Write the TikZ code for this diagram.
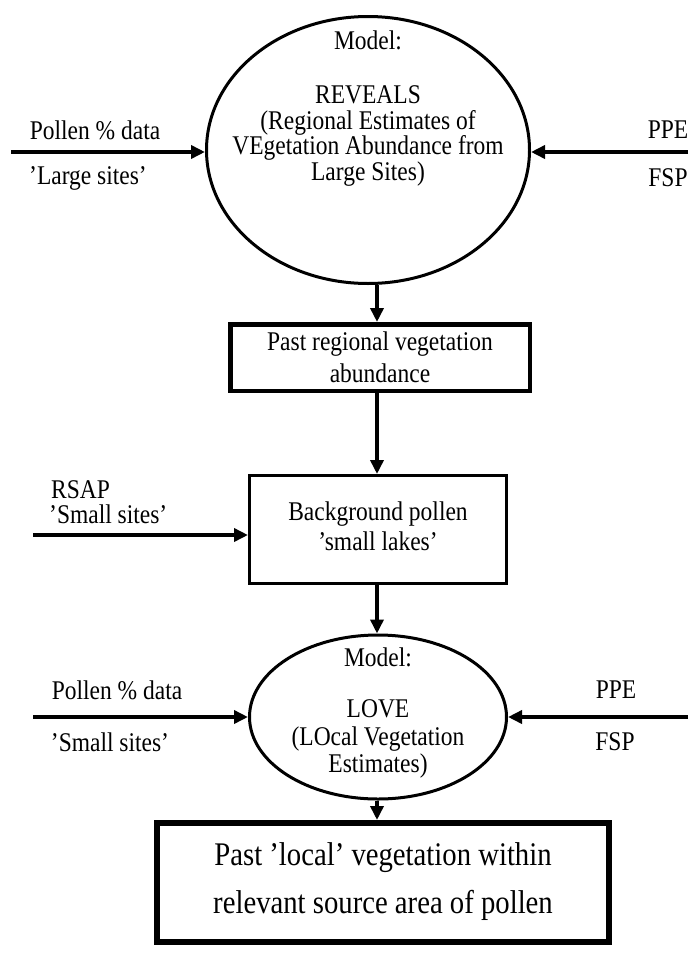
\documentclass[tikz,border=0pt]{standalone}
\usepackage{fontspec}
\setmainfont{Liberation Serif}[FakeStretch=0.87]
\usetikzlibrary{arrows.meta,shapes.geometric}

\tikzset{
    flow/.style={line width=3.5pt, -{Triangle[length=14pt,width=13pt]}},
    model/.style={draw, ellipse, line width=3pt, inner sep=0pt},
    stepbox/.style={draw, rectangle, inner sep=0pt},
    txt/.style={font=\fontsize{27}{26}\selectfont, align=center, inner sep=0pt},
}

\begin{document}
\begin{tikzpicture}[x=1pt, y=-1pt]
    \useasboundingbox (0,0) rectangle (688,953);
    \coordinate (axis) at (377,0);

    % models
    \node[model, minimum width=323pt, minimum height=267pt] (reveals) at (368,150) {};
    \node[model, minimum width=257pt, minimum height=164pt] (love) at (378,717) {};

    % boxes
    \node[stepbox, line width=4.5pt, minimum width=299.5pt, minimum height=66.5pt] (regional) at (380,357.5) {};
    \node[stepbox, line width=3pt, minimum width=257pt, minimum height=108pt] (background) at (378,529.5) {};
    \node[stepbox, line width=6pt, minimum width=452pt, minimum height=119pt] (local) at (383,882.5) {};

    % texts
    \node[txt] (m1) at (368,40) {Model:};
    \node[txt, font=\fontsize{27}{25.5}\selectfont] (t1) at (368,136) {REVEALS\\(Regional Estimates of\\VEgetation Abundance from\\Large Sites)};
    \node[txt, font=\fontsize{27}{32}\selectfont] (t2) at (380,357) {Past regional vegetation\\abundance};
    \node[txt, font=\fontsize{27}{30}\selectfont] (t3) at (378,526) {Background pollen\\'small lakes'};
    \node[txt] (m2) at (378,657) {Model:};
    \node[txt, font=\fontsize{27}{27.5}\selectfont] (t4) at (378,739) {LOVE\\(LOcal Vegetation\\Estimates)};
    \node[txt, font=\fontsize{33}{48}\selectfont] (t5) at (383,882) {Past 'local' vegetation within\\relevant source area of pollen};

    % side labels
    \node[txt] (pollen1) at (95,130) {Pollen \% data};
    \node[txt] (large) at (88,178) {'Large sites'};
    \node[txt] (ppe1) at (668,130) {PPE};
    \node[txt] (fsp1) at (668,178) {FSP};
    \node[txt, anchor=west] (rsap) at (51,490) {RSAP};
    \node[txt, anchor=west] (small1) at (49,514) {'Small sites'};
    \node[txt] (pollen2) at (117,690) {Pollen \% data};
    \node[txt] (small2) at (110,742) {'Small sites'};
    \node[txt] (ppe2) at (616,690) {PPE};
    \node[txt] (fsp2) at (615,742) {FSP};

    % free ends
    \coordinate (in1) at (11,152);
    \coordinate (in2) at (688,152);
    \coordinate (in3) at (33,535);
    \coordinate (in4) at (33,717);
    \coordinate (in5) at (688,717);

    % connectors
    \draw[flow] (in1) -- (in1 -| reveals.west);
    \draw[flow] (in2) -- (in2 -| reveals.east);
    \draw[flow] (reveals.south -| axis) -- (regional.north -| axis);
    \draw[flow] (regional.south -| axis) -- (background.north -| axis);
    \draw[flow] (in3) -- (background.west |- in3);
    \draw[flow] (background.south -| axis) -- (love.north -| axis);
    \draw[flow] (in4) -- (love.west);
    \draw[flow] (in5) -- (love.east);
    \draw[flow] (love.south -| axis) -- (local.north -| axis);
\end{tikzpicture}
\end{document}
